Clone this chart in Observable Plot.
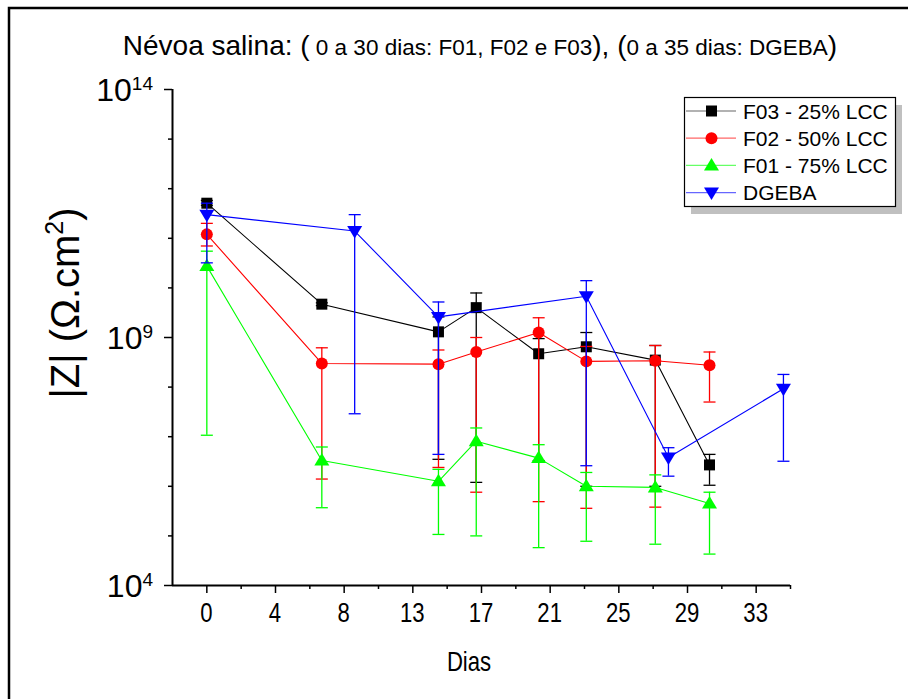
<!DOCTYPE html>
<html>
<head>
<meta charset="utf-8">
<script src="https://cdn.jsdelivr.net/npm/d3@7"></script>
<script src="https://cdn.jsdelivr.net/npm/@observablehq/plot@0.6"></script>
<style>
  body { margin: 0; background: #fff; }
  #chart svg { display: block; }
</style>
</head>
<body>
<div id="chart"></div>
<script>
// Immersion in salt fog: impedance modulus |Z| over exposure days.
const xStep = 4.18;                                   // spacing of labelled day ticks
const xTickLabels = ["0", "4", "8", "13", "17", "21", "25", "29", "33"];
const yTickExponents = [4, 9, 14];

const seriesNames = ["F03 - 25% LCC", "F02 - 50% LCC", "F01 - 75% LCC", "DGEBA"];
const seriesColors = ["#000000", "#ff0000", "#00ff00", "#0000ff"];

const daysF = [0, 7.0, 14.1, 16.4, 20.2, 23.1, 27.3, 30.6];
const daysDGEBA = [0, 9.0, 14.1, 23.1, 28.1, 35.1];

const zF03   = [5.1e11, 4.7e9, 1.3e9, 4.0e9, 4.7e8, 6.5e8, 3.5e8, 2.7e6];
const zF03Hi = [5.8e11, 5.0e9, 2.6e9, 7.9e9, 9.5e8, 1.26e9, 6.9e8, 4.4e6];
const zF03Lo = [4.6e11, 4.4e9, 3.5e6, 1.2e6, 3.3e6, 1.0e6, 1.0e6, 1.05e6];

const zF02   = [1.2e11, 3.0e8, 2.9e8, 5.1e8, 1.26e9, 3.3e8, 3.4e8, 2.75e8];
const zF02Hi = [2.0e11, 6.2e8, 5.6e8, 1.0e9, 2.5e9, 6.6e8, 6.9e8, 5.1e8];
const zF02Lo = [7.0e10, 1.4e6, 2.4e6, 7.6e5, 4.9e5, 3.6e5, 3.8e5, 5.0e7];

const zF01   = [2.75e10, 3.3e6, 1.26e6, 8.1e6, 3.7e6, 1.0e6, 9.5e5, 4.5e5];
const zF01Hi = [5.5e10, 6.2e6, 2.2e6, 1.5e7, 6.9e6, 1.9e6, 1.7e6, 7.6e5];
const zF01Lo = [1.07e7, 3.7e5, 1.07e5, 1.0e5, 5.8e4, 7.8e4, 6.8e4, 4.3e4];

const zDGEBA   = [3.0e11, 1.4e11, 2.6e9, 6.8e9, 3.8e6, 9.3e7];
const zDGEBAHi = [5.1e11, 3.0e11, 5.2e9, 1.4e10, 6.0e6, 1.8e8];
const zDGEBALo = [3.2e10, 2.9e7, 4.4e6, 2.6e6, 1.6e6, 3.2e6];

// Marker shapes (fixed pixel sizes, drawn centred on the data point)
const squareSym = { draw(c) { c.rect(-5.5, -5.5, 11, 11); } };
const circleSym = { draw(c) { c.moveTo(6, 0); c.arc(0, 0, 6, 0, 2 * Math.PI); } };
const triUpSym = { draw(c) { c.moveTo(0, -7.5); c.lineTo(7.5, 5); c.lineTo(-7.5, 5); c.closePath(); } };
const triDownSym = { draw(c) { c.moveTo(0, 7.5); c.lineTo(7.5, -5); c.lineTo(-7.5, -5); c.closePath(); } };
const capSym = { draw(c) { c.moveTo(-6, 0); c.lineTo(6, 0); } };
const seriesSymbols = [squareSym, circleSym, triUpSym, triDownSym];

function rows(days, z, hi, lo) {
  return days.map((d, i) => ({ day: d, z: z[i], hi: hi[i], lo: lo[i] }));
}
const seriesRows = [
  rows(daysF, zF03, zF03Hi, zF03Lo),
  rows(daysF, zF02, zF02Hi, zF02Lo),
  rows(daysF, zF01, zF01Hi, zF01Lo),
  rows(daysDGEBA, zDGEBA, zDGEBAHi, zDGEBALo)
];

const xDomain = [-xStep / 2, 8.5 * xStep];
const xMajor = xTickLabels.map((_, i) => i * xStep);
const xMinor = d3.range(0, 9).map(i => (i + 0.5) * xStep);
const yMajor = yTickExponents.map(e => Math.pow(10, e));
const yMinor = d3.range(5, 14).filter(e => !yTickExponents.includes(e)).map(e => Math.pow(10, e));

const regular = "'Liberation Sans', Arial, Helvetica, sans-serif";
const narrowScale = 0.82;   // condensed look for axis numbers and the x title

const dataMarks = [];
seriesRows.forEach((data, k) => {
  const color = seriesColors[k];
  dataMarks.push(
    Plot.line(data, { x: "day", y: "z", stroke: color, strokeWidth: 1.1 }),
    Plot.ruleX(data, { x: "day", y1: "lo", y2: "hi", stroke: color, strokeWidth: 1.3 }),
    Plot.dot(data, { x: "day", y: "hi", symbol: capSym, stroke: color, strokeWidth: 1.3, fill: "none" }),
    Plot.dot(data, { x: "day", y: "lo", symbol: capSym, stroke: color, strokeWidth: 1.3, fill: "none" }),
    Plot.dot(data, { x: "day", y: "z", symbol: seriesSymbols[k], fill: color, stroke: "none" })
  );
});

const chart = Plot.plot({
  width: 908,
  height: 699,
  marginLeft: 172,
  marginRight: 118,
  marginTop: 89,
  marginBottom: 114,
  style: { background: "#fff", fontFamily: regular, color: "#000", overflow: "visible" },
  x: { domain: xDomain, label: null },
  y: { type: "log", domain: [1e4, 1e14], label: null },
  marks: [
    Plot.axisY(yMinor, { tickSize: 4, fill: "none", strokeWidth: 1.5 }),
    Plot.axisY(yMajor, { tickSize: 8, fill: "none", strokeWidth: 1.5 }),
    Plot.axisX(xMinor, { tickSize: 4, fill: "none", strokeWidth: 1.5 }),
    Plot.axisX(xMajor, { tickSize: 8, fill: "none", strokeWidth: 1.5 }),
    Plot.ruleX([xDomain[0]], { stroke: "#000", strokeWidth: 2 }),
    Plot.ruleY([1e4], { stroke: "#000", strokeWidth: 2 }),
    ...dataMarks
  ]
});

document.getElementById("chart").appendChild(chart);

const svg = d3.select(chart);
const xs = chart.scale("x"), ys = chart.scale("y");
const x0 = xs.apply(xDomain[0]), yBase = ys.apply(1e4);

// Outer border
svg.append("path")
  .attr("d", "M9,699V8H908")
  .attr("fill", "none").attr("stroke", "#000").attr("stroke-width", 2.5);

// Day labels under the major ticks (condensed)
xMajor.forEach((v, i) => {
  svg.append("text")
    .attr("transform", `translate(${xs.apply(v)},${yBase + 37}) scale(${narrowScale},1)`)
    .attr("text-anchor", "middle")
    .attr("font-family", regular)
    .attr("font-size", 27)
    .text(xTickLabels[i]);
});

// Decade labels on the |Z| axis
yTickExponents.forEach(e => {
  const t = svg.append("text")
    .attr("x", x0 - 19)
    .attr("y", ys.apply(Math.pow(10, e)) + 12)
    .attr("text-anchor", "end")
    .attr("font-family", regular)
    .attr("font-size", 32);
  t.append("tspan").text("10");
  t.append("tspan").attr("font-size", 19).attr("dy", -11).text(String(e));
});

// Title
const title = svg.append("text")
  .attr("x", 480).attr("y", 55)
  .attr("text-anchor", "middle")
  .attr("font-family", regular)
  .attr("font-size", 28);
title.append("tspan").text("Névoa salina: (");
title.append("tspan").attr("font-size", 22.5).text(" 0 a 30 dias: F01, F02 e F03");
title.append("tspan").text("), (");
title.append("tspan").attr("font-size", 22.5).text("0 a 35 dias: DGEBA");
title.append("tspan").text(")");

// Axis titles
svg.append("text")
  .attr("transform", `translate(469,671) scale(${narrowScale},1)`)
  .attr("text-anchor", "middle")
  .attr("font-family", regular)
  .attr("font-size", 27)
  .text("Dias");

const yLab = svg.append("text")
  .attr("transform", "translate(79,303) rotate(-90)")
  .attr("text-anchor", "middle")
  .attr("font-family", regular)
  .attr("font-size", 40);
yLab.append("tspan").text("|Z| (Ω.cm");
yLab.append("tspan").attr("font-size", 25).attr("dy", -16).text("2");
yLab.append("tspan").attr("dy", 16).text(")");

// Legend
const lg = svg.append("g").attr("font-family", regular).attr("font-size", 21);
lg.append("rect").attr("x", 691).attr("y", 105).attr("width", 211).attr("height", 109).attr("fill", "#c0c0c0");
lg.append("rect").attr("x", 684.5).attr("y", 97.5).attr("width", 211).attr("height", 109)
  .attr("fill", "#fff").attr("stroke", "#000").attr("stroke-width", 1.2);
seriesNames.forEach((name, k) => {
  const cy = 111 + k * 27.2;
  lg.append("line").attr("x1", 686).attr("x2", 736).attr("y1", cy).attr("y2", cy)
    .attr("stroke", seriesColors[k]).attr("stroke-opacity", 0.6).attr("stroke-width", 1.2);
  const p = d3.path();
  seriesSymbols[k].draw(p);
  lg.append("path").attr("d", p.toString()).attr("transform", `translate(711.5,${cy})`)
    .attr("fill", seriesColors[k]);
  lg.append("text").attr("x", 743).attr("y", cy + 7.5).attr("text-anchor", "start").text(name);
});
</script>
</body>
</html>
